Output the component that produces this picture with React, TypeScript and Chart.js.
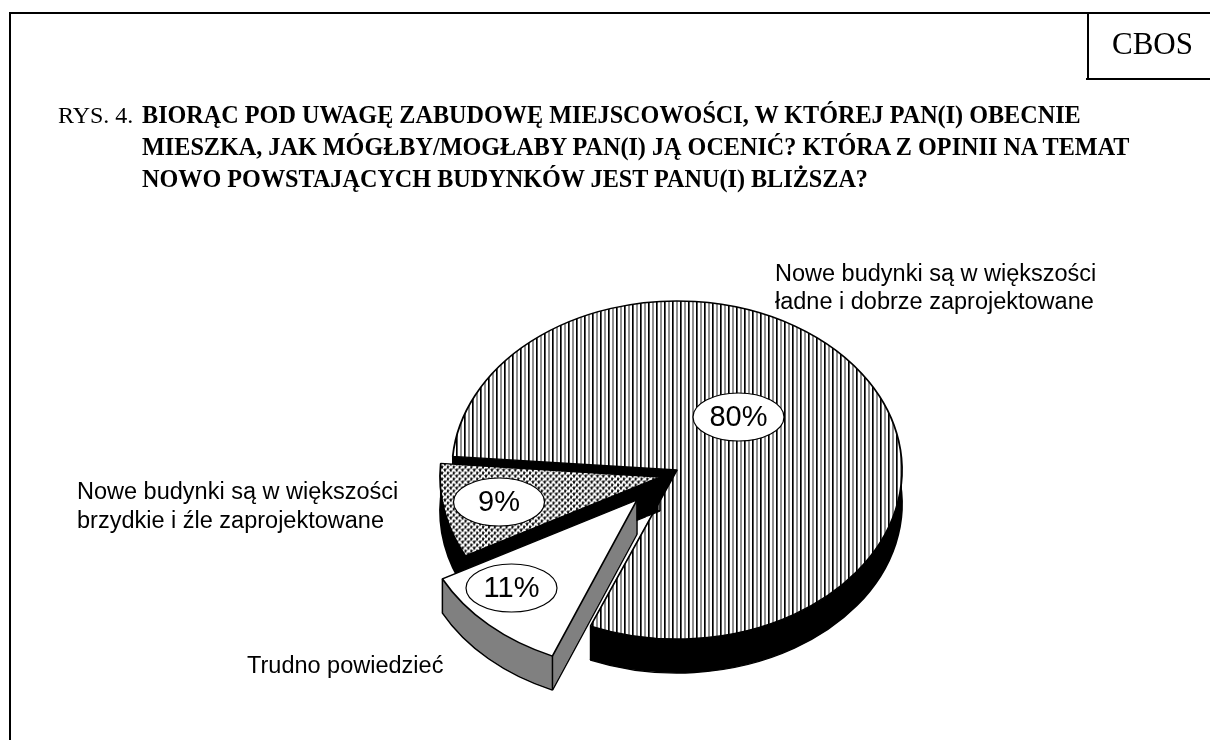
import React, { useEffect, useRef } from "react";
import { Chart, registerables } from "chart.js";

Chart.register(...registerables);

const categories = [
  ["Nowe budynki są w większości", "ładne i dobrze zaprojektowane"],
  ["Trudno powiedzieć"],
  ["Nowe budynki są w większości", "brzydkie i źle zaprojektowane"],
];
const values = [80, 11, 9];
const valueLabels = ["80%", "11%", "9%"];

// presentation: where each slice sits on the page
const ROTATION = 274.6;
const BASE_RADIUS = 225;
const DEPTH = 34;
const sliceBoxes = [
  { cx: 677, cy: 470, rx: 225, ry: 169 },
  { cx: 637, cy: 500, rx: 220, ry: 169 },
  { cx: 660, cy: 477, rx: 220, ry: 169 },
];
const wallColors = ["#000000", "#808080", "#000000"];
const paintOrder = [0, 2, 1];
const ovalCentres = [
  { x: 738.5, y: 417 },
  { x: 511.5, y: 588 },
  { x: 499, y: 502 },
];
const categoryPlaces = [
  { x: 775, y: 280.5 },
  { x: 247, y: 672.5 },
  { x: 77, y: 499 },
];

function stripePattern() {
  const c = document.createElement("canvas");
  c.width = 8;
  c.height = 4;
  const g = c.getContext("2d")!;
  g.fillStyle = "#fff";
  g.fillRect(0, 0, 8, 4);
  g.fillStyle = "#000";
  g.fillRect(0, 0, 1, 4);
  g.fillStyle = "#555";
  g.fillRect(1, 0, 1, 4);
  g.fillStyle = "#909090";
  g.fillRect(4, 0, 2, 4);
  return g.createPattern(c, "repeat")!;
}

function dotPattern() {
  const c = document.createElement("canvas");
  c.width = 6;
  c.height = 6;
  const g = c.getContext("2d")!;
  g.fillStyle = "#fff";
  g.fillRect(0, 0, 6, 6);
  g.fillStyle = "#888";
  [[2, 0], [5, 0], [0, 2], [1, 2], [3, 2], [4, 2], [2, 5], [5, 3], [0, 5], [1, 5], [3, 5], [4, 5]].forEach(([x, y]) =>
    g.fillRect(x, y, 1, 1)
  );
  g.fillStyle = "#111";
  g.fillRect(0, 0, 2, 2);
  g.fillRect(3, 3, 2, 2);
  const p = g.createPattern(c, "repeat")!;
  p.setTransform(new DOMMatrix().scale(1, 225 / 169));
  return p;
}

const pie3d = {
  id: "pie3d",
  beforeDatasetDraw(chart: any) {
    const ctx: CanvasRenderingContext2D = chart.ctx;
    const arcs = chart.getDatasetMeta(0).data;
    const place = (i: number) => {
      const el = arcs[i];
      const b = sliceBoxes[i];
      ctx.translate(b.cx, b.cy);
      ctx.scale(b.rx / el.outerRadius, b.ry / el.outerRadius);
      ctx.translate(-el.x, -el.y);
    };
    const edgePoint = (i: number, angle: number, t: number) => {
      const b = sliceBoxes[i];
      return { x: b.cx + Math.cos(angle) * b.rx * t, y: b.cy + Math.sin(angle) * b.ry * t };
    };
    paintOrder.forEach((i) => {
      const el = arcs[i];
      const opts = el.options;
      if (i === 1) {
        // the thin light gap between the detached slice and the big slice's cut face
        const a = arcs[0].endAngle;
        const p = edgePoint(0, a, 0.3);
        const q = edgePoint(0, a, 1);
        ctx.save();
        ctx.fillStyle = "#fff";
        ctx.beginPath();
        ctx.moveTo(p.x - 1.5, p.y);
        ctx.lineTo(q.x - 1.5, q.y);
        ctx.lineTo(q.x - 4.5, q.y);
        ctx.lineTo(p.x - 4.5, p.y);
        ctx.closePath();
        ctx.fill();
        ctx.restore();
      }
      // the side wall: the library's own wedge, repeated downwards
      for (let dy = DEPTH; dy >= 1; dy--) {
        ctx.save();
        ctx.translate(0, dy);
        place(i);
        el.options = {
          ...opts,
          backgroundColor: wallColors[i],
          borderColor: dy === DEPTH ? "#000000" : wallColors[i],
          borderWidth: dy === DEPTH ? opts.borderWidth : 0,
        };
        el.draw(ctx);
        ctx.restore();
      }
      el.options = opts;
      // vertical wall corners
      ctx.save();
      ctx.strokeStyle = "#000";
      ctx.lineWidth = 1.5;
      [edgePoint(i, el.startAngle, 1), edgePoint(i, el.endAngle, 1), edgePoint(i, el.startAngle, 0)].forEach((p) => {
        ctx.beginPath();
        ctx.moveTo(p.x, p.y);
        ctx.lineTo(p.x, p.y + DEPTH);
        ctx.stroke();
      });
      ctx.restore();
      // the top face
      ctx.save();
      place(i);
      el.draw(ctx);
      ctx.restore();
    });
    return false;
  },
  afterDatasetsDraw(chart: any) {
    const ctx: CanvasRenderingContext2D = chart.ctx;
    ctx.save();
    ctx.textBaseline = "alphabetic";
    ctx.fillStyle = "#000";
    ctx.font = '23.5px "Liberation Sans"';
    ctx.textAlign = "left";
    (chart.data.labels as string[][]).forEach((lines, i) => {
      lines.forEach((line, k) => {
        ctx.fillText(line, categoryPlaces[i].x, categoryPlaces[i].y + k * 28.5);
      });
    });
    valueLabels.forEach((text, i) => {
      const { x, y } = ovalCentres[i];
      ctx.beginPath();
      ctx.ellipse(x, y, 45.5, 24, 0, 0, Math.PI * 2);
      ctx.fillStyle = "#fff";
      ctx.fill();
      ctx.lineWidth = 1.2;
      ctx.strokeStyle = "#000";
      ctx.stroke();
      ctx.fillStyle = "#000";
      ctx.font = '29px "Liberation Sans"';
      ctx.textAlign = "center";
      ctx.textBaseline = "middle";
      ctx.fillText(text, x, y + 1);
    });
    ctx.restore();
  },
};

const serif = '"Liberation Serif", serif';
const titleLine = (top: number): React.CSSProperties => ({
  position: "absolute",
  left: 142,
  top,
  font: `bold 24.2px ${serif}`,
  lineHeight: "24px",
  whiteSpace: "nowrap",
  color: "#000",
});

export default function App() {
  const ref = useRef<HTMLCanvasElement>(null);
  useEffect(() => {
    const chart = new Chart(ref.current!, {
      type: "pie",
      data: {
        labels: categories as any,
        datasets: [
          {
            data: values,
            backgroundColor: [stripePattern(), "#ffffff", dotPattern()],
            borderColor: "#000000",
            borderWidth: 1.8,
          },
        ],
      },
      options: {
        animation: false,
        responsive: false,
        devicePixelRatio: 1,
        rotation: ROTATION,
        radius: BASE_RADIUS,
        events: [],
        plugins: { legend: { display: false }, tooltip: { enabled: false }, title: { display: false } },
      } as any,
      plugins: [pie3d as any],
    });
    return () => chart.destroy();
  }, []);
  const line = (s: React.CSSProperties): React.CSSProperties => ({ position: "absolute", background: "#000", ...s });
  return (
    <div style={{ position: "fixed", left: 0, top: 0, width: 1210, height: 740, background: "#fff", overflow: "hidden" }}>
      <canvas ref={ref} width={1210} height={740} style={{ position: "absolute", left: 0, top: 0 }} />
      <div style={line({ left: 9, top: 12, width: 2, height: 728 })} />
      <div style={line({ left: 9, top: 12, width: 1201, height: 2 })} />
      <div style={line({ left: 1087, top: 12, width: 2, height: 68 })} />
      <div style={line({ left: 1086, top: 78, width: 124, height: 2 })} />
      <div style={{ position: "absolute", left: 1112, top: 26, font: `31px ${serif}`, lineHeight: "36px", color: "#000" }}>CBOS</div>
      <div style={{ position: "absolute", left: 58, top: 103, font: `24px ${serif}`, lineHeight: "24px", whiteSpace: "nowrap", color: "#000" }}>RYS. 4.</div>
      <div style={titleLine(103)}>BIORĄC POD UWAGĘ ZABUDOWĘ MIEJSCOWOŚCI, W KTÓREJ PAN(I) OBECNIE</div>
      <div style={titleLine(135)}>MIESZKA, JAK MÓGŁBY/MOGŁABY PAN(I) JĄ OCENIĆ? KTÓRA Z OPINII NA TEMAT</div>
      <div style={titleLine(167)}>NOWO POWSTAJĄCYCH BUDYNKÓW JEST PANU(I) BLIŻSZA?</div>
    </div>
  );
}
